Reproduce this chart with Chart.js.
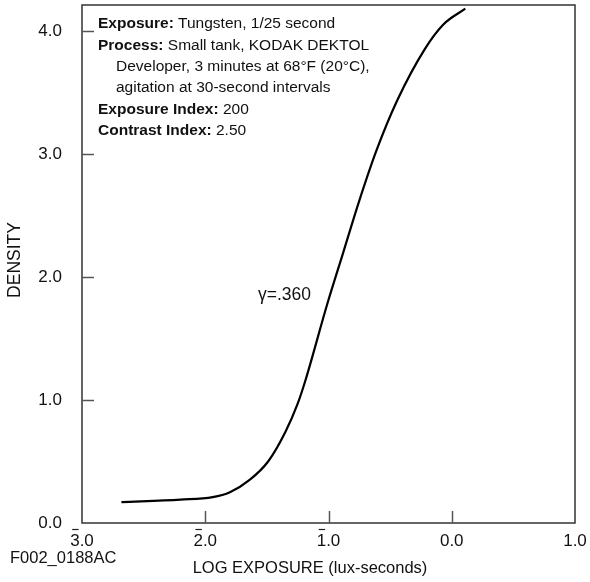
<!DOCTYPE html>
<html>
<head>
<meta charset="utf-8">
<script src="https://cdn.jsdelivr.net/npm/chart.js@4"></script>
<style>
  body { margin: 0; background: #ffffff; }
  #wrap { width: 590px; height: 582px; }
</style>
</head>
<body>
<div id="wrap"><canvas id="curve" width="590" height="582"></canvas></div>
<script>
// characteristic curve
const logExposure = [-2.68, -2.2, -1.94, -1.8, -1.64, -1.49, -1.35, -1.25, -1.19, -1.01, -0.88, -0.75, -0.61, -0.44, -0.22, -0.07, 0.11];
const density = [0.17, 0.19, 0.21, 0.25, 0.35, 0.5, 0.74, 0.97, 1.15, 1.78, 2.2, 2.62, 3.03, 3.44, 3.85, 4.05, 4.18];

const xTicks = [-3, -2, -1, 0, 1];
const xTickLabels = ["3.0", "2.0", "1.0", "0.0", "1.0"];
const xTickBar = [true, true, true, false, false]; // bar notation for negative characteristic
const yTicks = [0, 1, 2, 3, 4];
const yTickLabels = ["0.0", "1.0", "2.0", "3.0", "4.0"];

const notes = [
  { bold: "Exposure:", text: " Tungsten, 1/25 second", indent: 0 },
  { bold: "Process:", text: " Small tank, KODAK DEKTOL", indent: 0 },
  { bold: "", text: "Developer, 3 minutes at 68\u00B0F (20\u00B0C),", indent: 1 },
  { bold: "", text: "agitation at 30-second intervals", indent: 1 },
  { bold: "Exposure Index:", text: " 200", indent: 0 },
  { bold: "Contrast Index:", text: " 2.50", indent: 0 }
];
const gammaLabel = "\u03B3=.360";
const figureId = "F002_0188AC";
const xTitle = "LOG EXPOSURE (lux-seconds)";
const yTitle = "DENSITY";

const FONT = "'Liberation Sans', Arial, Helvetica, sans-serif";

const extras = {
  id: "extras",
  afterDraw(chart) {
    const ctx = chart.ctx;
    const a = chart.chartArea;
    const xs = chart.scales.x;
    const ys = chart.scales.y;
    ctx.save();

    // frame
    ctx.strokeStyle = "#333";
    ctx.lineWidth = 1.5;
    ctx.strokeRect(a.left, a.top, a.right - a.left, a.bottom - a.top);

    // inward ticks
    ctx.strokeStyle = "#555";
    ctx.lineWidth = 1.5;
    yTicks.forEach(v => {
      if (v === 0) return;
      const y = Math.round(ys.getPixelForValue(v)) + 0.5;
      ctx.beginPath();
      ctx.moveTo(a.left, y);
      ctx.lineTo(a.left + 12, y);
      ctx.stroke();
    });
    xTicks.forEach(v => {
      if (v === xTicks[0] || v === xTicks[xTicks.length - 1]) return;
      const x = Math.round(xs.getPixelForValue(v)) + 0.5;
      ctx.beginPath();
      ctx.moveTo(x, a.bottom);
      ctx.lineTo(x, a.bottom - 12);
      ctx.stroke();
    });

    // overbars on the x tick labels
    ctx.font = "17px " + FONT;
    ctx.strokeStyle = "#222";
    ctx.lineWidth = 1.2;
    xTicks.forEach((v, i) => {
      if (!xTickBar[i]) return;
      const x = xs.getPixelForValue(v);
      const w = ctx.measureText(xTickLabels[i]).width;
      const cw = ctx.measureText(xTickLabels[i][0]).width;
      const left = x - w / 2;
      ctx.beginPath();
      ctx.moveTo(left + 2, 529.5);
      ctx.lineTo(left + cw - 1, 529.5);
      ctx.stroke();
    });

    ctx.fillStyle = "#111";
    ctx.textBaseline = "middle";

    // notes block
    const lineY = [24, 46, 67, 88, 110, 131];
    notes.forEach((n, i) => {
      let x = 98 + n.indent * 18;
      if (n.bold) {
        ctx.font = "bold 15.5px " + FONT;
        ctx.fillText(n.bold, x, lineY[i]);
        x += ctx.measureText(n.bold).width;
      }
      ctx.font = "15.5px " + FONT;
      ctx.fillText(n.text, x, lineY[i]);
    });

    // gamma label
    ctx.font = "17.5px " + FONT;
    ctx.fillText(gammaLabel, 258, 295);

    // titles
    ctx.font = "16.5px " + FONT;
    ctx.textAlign = "center";
    ctx.fillText(xTitle, 310, 568);
    ctx.textAlign = "left";
    ctx.fillText(figureId, 10, 558);

    ctx.font = "17.5px " + FONT;
    ctx.textAlign = "center";
    ctx.translate(15, 260);
    ctx.rotate(-Math.PI / 2);
    ctx.fillText(yTitle, 0, 0);
    ctx.restore();
  }
};

new Chart(document.getElementById("curve").getContext("2d"), {
  type: "line",
  data: {
    datasets: [{
      data: logExposure.map((x, i) => ({ x: x, y: density[i] })),
      borderColor: "#000",
      borderWidth: 2.2,
      pointRadius: 0,
      cubicInterpolationMode: "monotone",
      fill: false
    }]
  },
  options: {
    responsive: false,
    animation: false,
    devicePixelRatio: 1,
    layout: { padding: { top: 5, right: 15, left: 0, bottom: 0 } },
    plugins: { legend: { display: false }, tooltip: { enabled: false } },
    scales: {
      x: {
        type: "linear",
        min: -3,
        max: 1,
        afterBuildTicks: s => { s.ticks = xTicks.map(v => ({ value: v })); },
        afterFit: s => {
          s.height = 59;
          s.paddingLeft = 0; s.paddingRight = 0; s.paddingTop = 0; s.paddingBottom = 0;
        },
        grid: { display: false, drawTicks: false },
        border: { display: false },
        ticks: {
          padding: 8,
          color: "#111",
          font: { family: FONT, size: 17 },
          maxRotation: 0,
          autoSkip: false,
          callback: v => xTickLabels[xTicks.indexOf(v)]
        }
      },
      y: {
        type: "linear",
        min: 0,
        max: 4.21,
        afterBuildTicks: s => { s.ticks = yTicks.map(v => ({ value: v })); },
        afterFit: s => {
          s.width = 82;
          s.paddingLeft = 0; s.paddingRight = 0; s.paddingTop = 0; s.paddingBottom = 0;
        },
        grid: { display: false, drawTicks: false },
        border: { display: false },
        ticks: {
          padding: 20,
          color: "#111",
          font: { family: FONT, size: 17 },
          autoSkip: false,
          callback: v => yTickLabels[yTicks.indexOf(v)]
        }
      }
    }
  },
  plugins: [extras]
});
</script>
</body>
</html>
